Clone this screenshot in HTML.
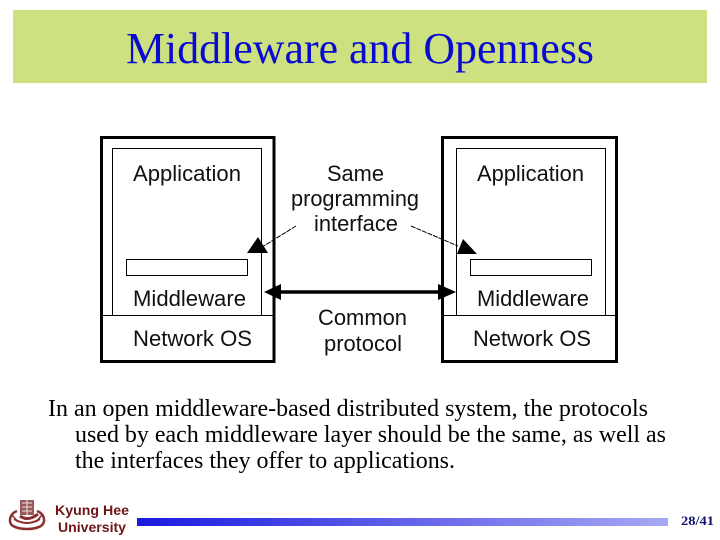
<!DOCTYPE html>
<html>
<head>
<meta charset="utf-8">
<style>
html,body{margin:0;padding:0;background:#fff}
svg{display:block}
</style>
</head>
<body>
<svg width="720" height="540" viewBox="0 0 720 540" xmlns="http://www.w3.org/2000/svg">
<defs>
<linearGradient id="g" x1="0" x2="1" y1="0" y2="0">
<stop offset="0" stop-color="#1a1ae0"/>
<stop offset="1" stop-color="#a8a8f4"/>
</linearGradient>
</defs>
<rect width="720" height="540" fill="#fff"/>
<rect x="13" y="10" width="694" height="73" fill="#cde181"/>
<text x="360" y="63" text-anchor="middle" font-family="Liberation Serif, serif" font-size="44" fill="#0b0bd0" textLength="468" lengthAdjust="spacingAndGlyphs">Middleware and Openness</text>

<g fill="none" stroke="#000">
<rect x="101.500" y="137.500" width="172.500" height="224" stroke-width="3"/>
<rect x="442.500" y="137.500" width="174" height="224" stroke-width="3"/>
<path d="M112.500 315V148.500H261.500V315M456.500 315V148.500H605.500V315" stroke-width="1"/>
<path d="M102 315.500H273M443 315.500H616" stroke-width="1"/>
<rect x="126.500" y="259.500" width="121" height="16" stroke-width="1"/>
<rect x="470.500" y="259.500" width="121" height="16" stroke-width="1"/>
<path d="M296 226L262 247M411 226L458 246" stroke-width="1" stroke-dasharray="5 1"/>
<path d="M275 292H450" stroke-width="3.500"/>
</g>
<g fill="#000">
<path d="M247 253H268L258 237Z"/>
<path d="M457 254H477L463 239Z"/>
<path d="M264 292L281 284V300Z"/>
<path d="M456 292L438 284V300Z"/>
</g>

<g font-family="Liberation Sans, sans-serif" font-size="22" fill="#111">
<text x="133" y="181" textLength="108" lengthAdjust="spacingAndGlyphs">Application</text>
<text x="477" y="181" textLength="107" lengthAdjust="spacingAndGlyphs">Application</text>
<text x="133" y="306" textLength="113" lengthAdjust="spacingAndGlyphs">Middleware</text>
<text x="477" y="306" textLength="112" lengthAdjust="spacingAndGlyphs">Middleware</text>
<text x="133" y="346" textLength="119" lengthAdjust="spacingAndGlyphs">Network OS</text>
<text x="473" y="346" textLength="118" lengthAdjust="spacingAndGlyphs">Network OS</text>
<text x="327" y="181" textLength="57" lengthAdjust="spacingAndGlyphs">Same</text>
<text x="291" y="206" textLength="128" lengthAdjust="spacingAndGlyphs">programming</text>
<text x="314" y="231" textLength="84" lengthAdjust="spacingAndGlyphs">interface</text>
<text x="318" y="325" textLength="89" lengthAdjust="spacingAndGlyphs">Common</text>
<text x="324" y="351" textLength="78" lengthAdjust="spacingAndGlyphs">protocol</text>
</g>

<g font-family="Liberation Serif, serif" font-size="24" fill="#000">
<text x="48" y="416" textLength="600" lengthAdjust="spacingAndGlyphs">In an open middleware-based distributed system, the protocols</text>
<text x="75" y="442" textLength="591" lengthAdjust="spacingAndGlyphs">used by each middleware layer should be the same, as well as</text>
<text x="75" y="468" textLength="380" lengthAdjust="spacingAndGlyphs">the interfaces they offer to applications.</text>
</g>

<g fill="none" stroke="#8a2f2f">
<path d="M17 511C9 514 8 523 13 526C20 530 34 530 41 526C46 522 45 514 37 511" stroke-width="2.500"/>
<path d="M14 519Q27 527 40 519" stroke-width="2"/>
<path d="M20 516Q28 522 38 514" stroke-width="3"/>
<path d="M12 515L18 522M42 515L36 522" stroke-width="1.500"/>
</g>
<rect x="20" y="500" width="14" height="15" fill="#9a5a5a"/>
<path d="M22 503H32M22 507H32M22 511H32M27 500V515" stroke="#f2dede" stroke-width="1"/>

<g font-family="Liberation Sans, sans-serif" font-size="13.500" font-weight="bold" fill="#6e1616">
<text x="55" y="515" textLength="74" lengthAdjust="spacingAndGlyphs">Kyung Hee</text>
<text x="58" y="532" textLength="68" lengthAdjust="spacingAndGlyphs">University</text>
</g>

<rect x="137" y="518" width="531" height="8" fill="url(#g)"/>
<text x="681" y="525" font-family="Liberation Serif, serif" font-size="13" font-weight="bold" fill="#12126e" textLength="33" lengthAdjust="spacingAndGlyphs">28/41</text>
</svg>
</body>
</html>
